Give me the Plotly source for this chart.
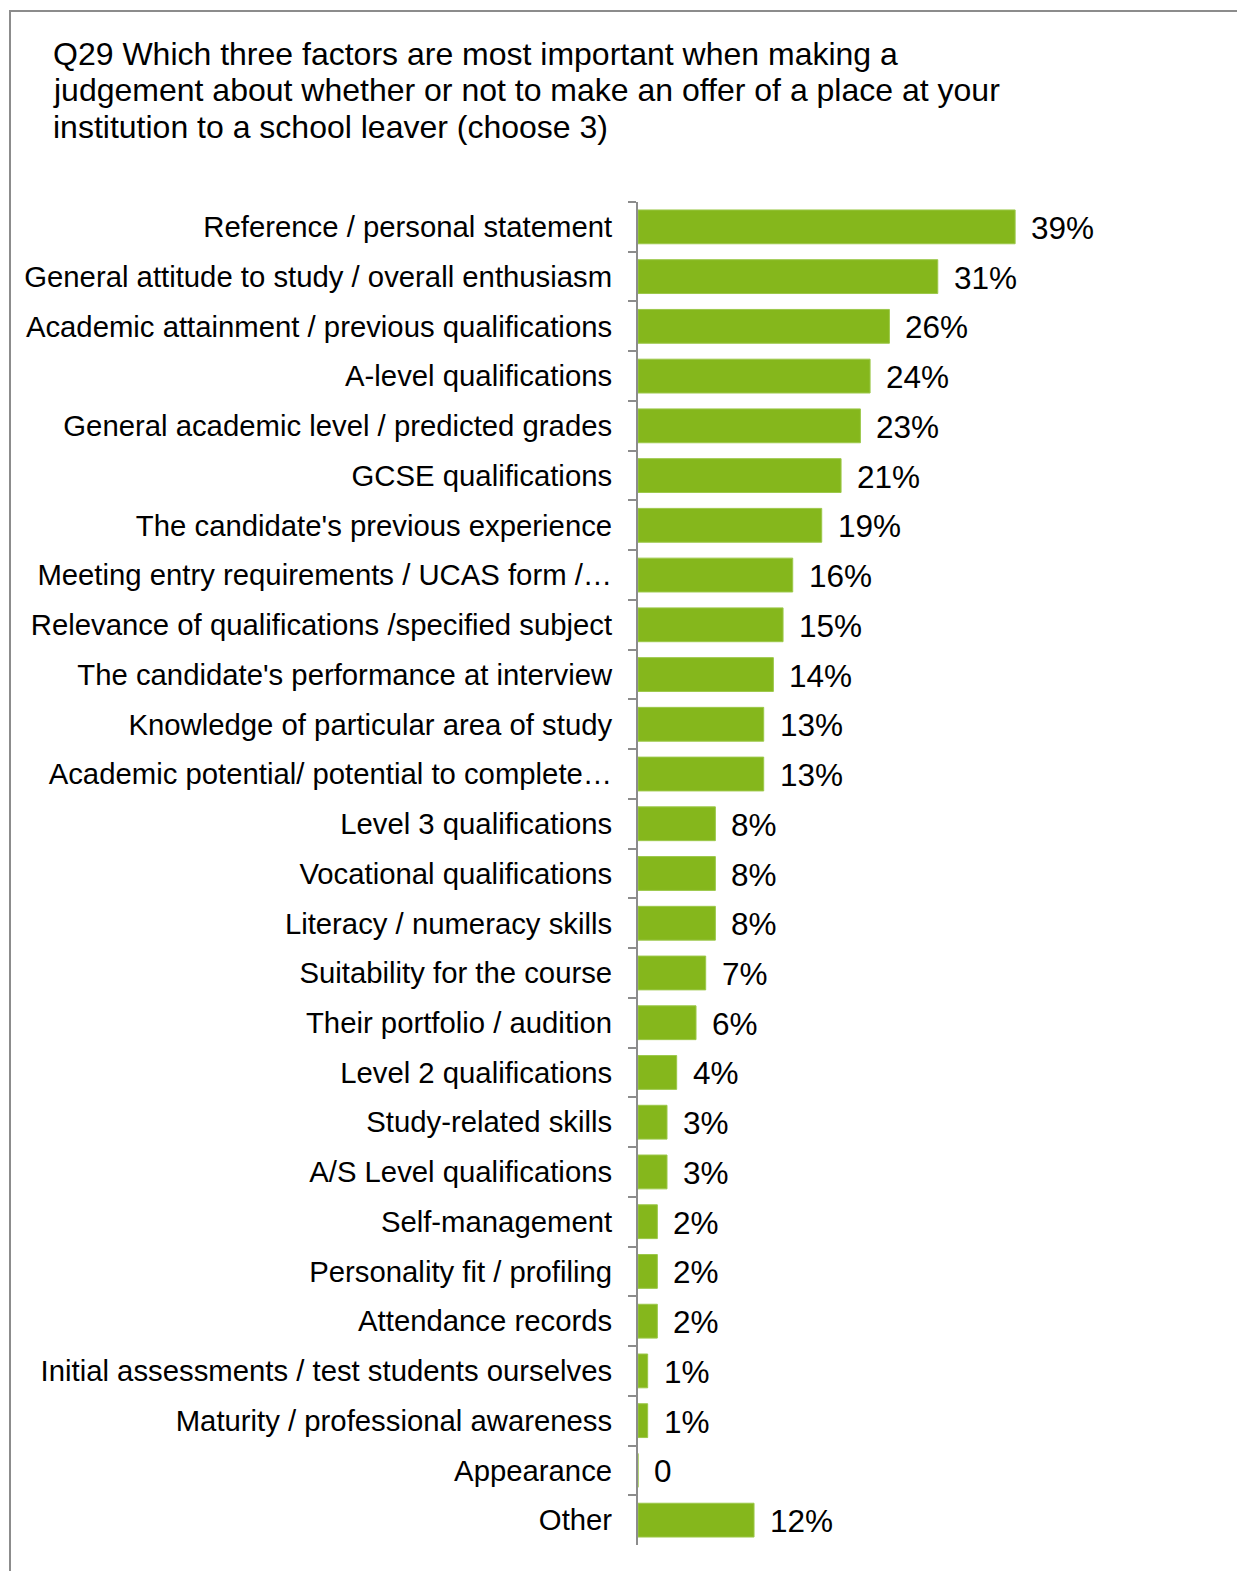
import plotly.graph_objects as go

# Survey responses, top to bottom
categories = [
    "Reference / personal statement",
    "General attitude to study / overall enthusiasm",
    "Academic attainment / previous qualifications",
    "A-level qualifications",
    "General academic level / predicted grades",
    "GCSE qualifications",
    "The candidate's previous experience",
    "Meeting entry requirements / UCAS form /…",
    "Relevance of qualifications /specified subject",
    "The candidate's performance at interview",
    "Knowledge of particular area of study",
    "Academic potential/ potential to complete…",
    "Level 3 qualifications",
    "Vocational qualifications",
    "Literacy / numeracy skills",
    "Suitability for the course",
    "Their portfolio / audition",
    "Level 2 qualifications",
    "Study-related skills",
    "A/S Level qualifications",
    "Self-management",
    "Personality fit / profiling",
    "Attendance records",
    "Initial assessments / test students ourselves",
    "Maturity / professional awareness",
    "Appearance",
    "Other",
]
values = [39, 31, 26, 24, 23, 21, 19, 16, 15, 14, 13, 13, 8, 8, 8, 7, 6, 4, 3, 3, 2, 2, 2, 1, 1, 0, 12]
value_labels = [f"{v}%" if v > 0 else "0" for v in values]

title_lines = [
    "Q29 Which three factors are most important when making a",
    "judgement about whether or not to make an offer of a place at your",
    "institution to a school leaver (choose 3)",
]

W, H = 1237, 1571
M_L, M_R, M_T, M_B = 638, 37, 202, 26
X_MAX = (W - M_L - M_R) / 9.67

FONT = "Arial, 'Liberation Sans', sans-serif"
GREEN = "#85B71C"

fig = go.Figure(go.Bar(
    x=values,
    y=categories,
    orientation="h",
    marker=dict(color=GREEN, line=dict(color="#9CC84A", width=1)),
    width=0.68,
    hoverinfo="x+y",
))

# value labels to the right of each bar
for cat, v, lab in zip(categories, values, value_labels):
    fig.add_annotation(
        x=v, y=cat, text=lab, showarrow=False,
        xanchor="left", yanchor="middle", xshift=14, yshift=-1,
        font=dict(family=FONT, size=31.5, color="#000000"),
    )

# helpers: pixel position -> plot-area paper coordinates
pw = W - M_L - M_R
ph = H - M_T - M_B
def px_x(p):
    return (p - M_L) / pw
def px_y(p):
    return (H - M_B - p) / ph

# three-line heading, left aligned
for i, line in enumerate(title_lines):
    fig.add_annotation(
        xref="paper", yref="paper", x=px_x(51), y=px_y(54 + i * 36.5),
        text=line, showarrow=False, xanchor="left", yanchor="middle",
        font=dict(family=FONT, size=32, color="#000000"),
    )

# outer frame
fig.add_shape(
    type="rect", xref="paper", yref="paper",
    x0=px_x(10), x1=px_x(W + 20), y0=px_y(H + 20), y1=px_y(11),
    line=dict(color="#8C8C8C", width=2), fillcolor="rgba(0,0,0,0)", layer="below",
)

fig.update_layout(
    width=W, height=H,
    margin=dict(l=M_L, r=M_R, t=M_T, b=M_B),
    paper_bgcolor="white", plot_bgcolor="white",
    showlegend=False,
    bargap=0.32,
    xaxis=dict(
        range=[0, X_MAX], visible=False, fixedrange=True,
    ),
    yaxis=dict(
        type="category", autorange="reversed",
        showline=True, linecolor="#8C8C8C", linewidth=2,
        ticks="outside", tickson="boundaries", ticklen=8,
        tickcolor="#8C8C8C", tickwidth=2,
        ticklabelstandoff=18,
        tickfont=dict(family=FONT, size=29.3, color="#000000"),
        showgrid=False,
    ),
    font=dict(family=FONT),
)

fig.write_html("out.html")
